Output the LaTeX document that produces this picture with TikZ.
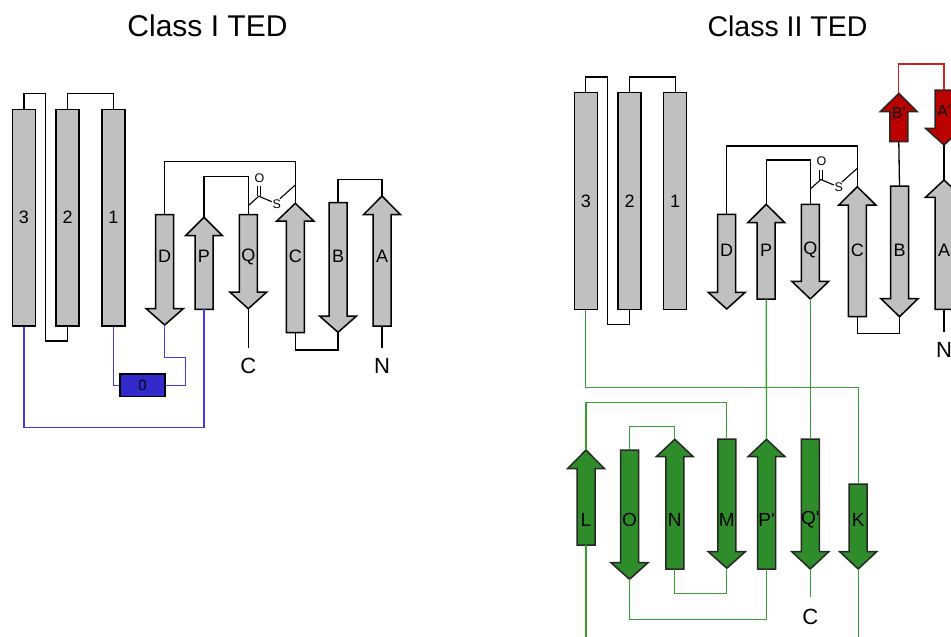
\documentclass[tikz,border=0pt]{standalone}
\usepackage{fontspec}
\setmainfont{Liberation Sans}
\definecolor{fillgray}{HTML}{C0C0C0}
\definecolor{fillgreen}{RGB}{47,140,43}
\definecolor{fillred}{RGB}{187,0,0}
\definecolor{fillblue}{RGB}{51,42,204}
\definecolor{lineblue}{RGB}{66,58,222}
\definecolor{linegreen}{RGB}{58,158,52}
\definecolor{linered}{RGB}{204,34,34}

% half-widths of strand body and arrow head
\def\bw{9}
\def\ww{18.5}

% up-pointing strand: name, x, tip y, head-base y, bottom y, style, label, label y
\newcommand\strandup[8]{%
  \filldraw[#6] ({#2-\bw},#5) -- ({#2+\bw},#5) -- ({#2+\bw},#4) -- ({#2+\ww},#4)
    -- (#2,#3) -- ({#2-\ww},#4) -- ({#2-\bw},#4) -- cycle;
  \coordinate (#1-n) at (#2,#3);
  \coordinate (#1-s) at (#2,#5);
  \node[#6,lbl] (#1) at (#2,#8) {#7};}
% down-pointing strand: name, x, top y, head-base y, tip y, style, label, label y
\newcommand\stranddown[8]{%
  \filldraw[#6] ({#2-\bw},#3) -- ({#2+\bw},#3) -- ({#2+\bw},#4) -- ({#2+\ww},#4)
    -- (#2,#5) -- ({#2-\ww},#4) -- ({#2-\bw},#4) -- cycle;
  \coordinate (#1-n) at (#2,#3);
  \coordinate (#1-s) at (#2,#5);
  \node[#6,lbl] (#1) at (#2,#8) {#7};}
% thioester link: prefix, x of strand line, y of loop top
\newcommand\thioester[3]{%
  \coordinate (#1-c1) at (#2,{#3+29});
  \coordinate (#1-c2) at ({#2+10.5},{#3+19.5});
  \draw[bond] (#1-c1) -- (#1-c2);
  \draw[bond] ({#2+9.2},{#3+19.5}) -- ({#2+9.2},{#3+9.5});
  \draw[bond] ({#2+11.8},{#3+19.5}) -- ({#2+11.8},{#3+9.5});
  \node[atom] (#1-O) at ({#2+11.2},{#3+1.2}) {O};
  \node[atom] (#1-S) at ({#2+28.6},{#3+27.5}) {S};
  \draw[bond] (#1-c2) -- ({#2+23.5},{#3+25});
  \draw[bond] ({#2+31.6},{#3+22}) -- ({#2+46.8},{#3+8.5});}

\tikzset{
  lbl/.style={inner sep=0pt, draw=none, fill=none, text=black},
  atom/.style={font=\fontsize{12.5}{12.5}\selectfont, inner sep=0pt},
  term/.style={font=\fontsize{22}{22}\selectfont, inner sep=0pt},
  title/.style={inner sep=0pt, anchor=base},
  gsheet/.style={draw=black, fill=fillgray, line width=1.5pt, line join=miter,
    font=\fontsize{18}{18}\selectfont},
  greensheet/.style={draw=black!85, fill=fillgreen, line width=1.5pt, line join=miter,
    font=\fontsize{19}{19}\selectfont},
  redsheet/.style={draw=black!85, fill=fillred, line width=1.5pt, line join=miter,
    font=\fontsize{16}{16}\selectfont},
  helix/.style={draw=black, fill=fillgray, line width=1.5pt, minimum width=23pt,
    inner sep=0pt, font=\fontsize{18}{18}\selectfont},
  loopk/.style={draw=black, line width=1.3pt},
  loopb/.style={draw=lineblue, line width=1.3pt},
  loopg/.style={draw=linegreen, line width=1.3pt},
  loopr/.style={draw=linered, line width=1.3pt},
  bond/.style={draw=black, line width=1.1pt},
}

\begin{document}
\begin{tikzpicture}[x=1pt, y=-1pt]
\useasboundingbox (0,0) rectangle (951,637);
\clip (0,0) rectangle (951,637);

% ---------------- Class I TED ----------------
\node[title, font=\fontsize{30}{30}\selectfont] (t1) at (207.5,36.7) {Class I TED};

\node[helix, minimum height=216.7pt] (h3) at (24,217.7) {3};
\node[helix, minimum height=216.7pt] (h2) at (67.7,217.7) {2};
\node[helix, minimum height=216.7pt] (h1) at (113.3,217.7) {1};

\stranddown{D}{164.7}{214.7}{308.7}{325}{gsheet}{D}{256.7}
\strandup{P}{204}{217.3}{235.7}{309.3}{gsheet}{P}{256.7}
\stranddown{Q}{248.3}{214.7}{292}{308.7}{gsheet}{Q}{256.7}
\strandup{C}{295.3}{203.3}{221}{332.7}{gsheet}{C}{256.7}
\stranddown{B}{338}{202.7}{316}{332.3}{gsheet}{B}{256.7}
\strandup{A}{382}{196}{214.7}{326}{gsheet}{A}{256.7}

\node[draw=black, fill=fillblue, line width=1.5pt, minimum width=45pt, minimum height=22.7pt,
  inner sep=0pt, font=\fontsize{15}{15}\selectfont] (h0) at (142.5,385.3) {0};

% loops
\draw[loopk] (h3.north) -- ++(0,-15.3) -| (45.7,341) -| (h2.south);
\draw[loopk] (h2.north) -- ++(0,-15.3) -| (h1.north);
\draw[loopk] (C-n) -- ++(0,-41.6) -| (D-n);
\draw[loopk] (Q-n) -- ++(0,-38) -| (P-n);
\draw[loopk] (B-s) -- ++(0,17.7) -| (C-s);
\draw[loopk] (A-n) -- ++(0,-16.7) -| (B-n);
\draw[loopb] (h1.south) |- (h0.west);
\draw[loopb] (h0.east) -| (185.7,357.7) -| (D-s);
\draw[loopb] (h3.south) -- ++(0,100.7) -| (P-s);

\thioester{tl}{248.3}{176.7}

% termini
\coordinate (lcend) at (248.3,348.3);
\coordinate (lnend) at (382,348.3);
\draw[loopk] (Q-s) -- (lcend);
\draw[loopk] (A-s) -- (lnend);
\node[term] (lC) at (248.3,366) {C};
\node[term] (lN) at (382,366) {N};

% ---------------- Class II TED ----------------
\node[title, font=\fontsize{28.5}{28.5}\selectfont] (t2) at (787.5,36.7) {Class II TED};

\node[helix, minimum height=216.6pt] (rh3) at (585.8,201) {3};
\node[helix, minimum height=216.6pt] (rh2) at (629.7,201) {2};
\node[helix, minimum height=216.6pt] (rh1) at (675.2,201) {1};

\stranddown{rD}{726.7}{214.3}{292.3}{309}{gsheet}{D}{250}
\strandup{rP}{766.2}{204.3}{222.7}{299}{gsheet}{P}{250}
\stranddown{rQ}{810.3}{204.3}{281.3}{299}{gsheet}{Q}{250}
\strandup{rC}{857.3}{186.7}{205}{316.7}{gsheet}{C}{250}
\stranddown{rB}{899.5}{186}{298.7}{316.7}{gsheet}{B}{250}
\strandup{rA}{944}{180}{197.3}{309.3}{gsheet}{A}{250}

\strandup{rBp}{898.8}{93.3}{111.7}{141.7}{redsheet}{B\textquotesingle}{113}
\stranddown{rAp}{944}{90}{128.3}{145}{redsheet}{A\textquotesingle}{111}

\stranddown{rK}{858.2}{484}{551.7}{569}{greensheet}{K}{520}
\stranddown{rQp}{810.3}{439}{551.7}{569}{greensheet}{Q\textquotesingle}{520}
\strandup{rPp}{766.5}{439.3}{456.7}{569}{greensheet}{P\textquotesingle}{520}
\stranddown{rM}{726.8}{439}{551.7}{568.3}{greensheet}{M}{520}
\strandup{rN}{674.8}{439.3}{456.7}{569}{greensheet}{N}{520}
\stranddown{rO}{629.5}{450}{562.7}{579.3}{greensheet}{O}{520}
\strandup{rL}{586}{450}{468.7}{545}{greensheet}{L}{520}

% loops
\draw[loopk] (rh3.north) -- ++(0,-15) -| (607.7,324.3) -| (rh2.south);
\draw[loopk] (rh2.north) -- ++(0,-15) -| (rh1.north);
\draw[loopk] (rC-n) -- ++(0,-40.7) -| (rD-n);
\draw[loopk] (rQ-n) -- ++(0,-44.3) -| (rP-n);
\draw[loopk] (rB-s) -- ++(0,16.6) -| (rC-s);
\draw[loopk] (rBp-s) -- (rB-n);
\draw[loopk] (rAp-s) -- (rA-n);
\draw[loopr] (rBp-n) -- ++(0,-29.3) -| (rAp-n);

\draw[loopg] (rh3.south) -- ++(0,77.4) -| (rK-n);
\draw[loopg] (rP-s) -- (rPp-n);
\draw[loopg] (rQ-s) -- (rQp-n);
\draw[loopg] (rL-n) -- ++(0,-47.7) -| (rM-n);
\draw[loopg] (rO-n) -- ++(0,-23.3) -| (rN-n);
\draw[loopg] (rN-s) -- ++(0,24.3) -| (rM-s);
\draw[loopg] (rO-s) -- ++(0,40) -| (rPp-s);
\coordinate (rlend) at (586,645);
\coordinate (rkend) at (858.2,645);
\draw[loopg] (rL-s) -- (rlend);
\draw[loopg] (rK-s) -- (rkend);

\thioester{tr}{810.3}{160}

% termini
\coordinate (rnend) at (944,331.7);
\coordinate (rcend) at (810.3,597.3);
\draw[loopk] (rA-s) -- (rnend);
\draw[loopg] (rQp-s) -- (rcend);
\node[term] (rN2) at (944,350) {N};
\node[term] (rC2) at (810.3,616.7) {C};
\end{tikzpicture}
\end{document}
